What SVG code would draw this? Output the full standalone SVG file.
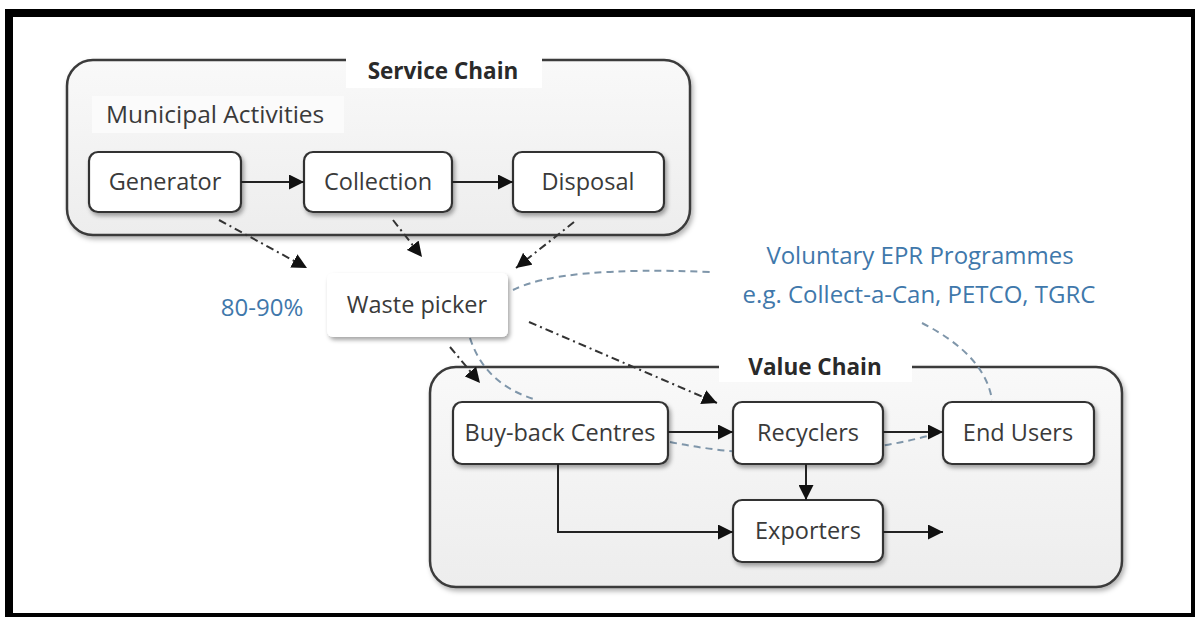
<svg xmlns="http://www.w3.org/2000/svg" width="1195" height="617" viewBox="0 0 1195 617">
<defs>
<style>
.lbl{font-family:"Open Sans","Noto Sans",sans-serif;font-size:23.5px;fill:#3a3a3a;text-anchor:middle}
.ttl{font-family:"Open Sans","Noto Sans",sans-serif;font-size:22.5px;font-weight:bold;fill:#2a2a2a;text-anchor:middle}
.blue{font-family:"Open Sans","Noto Sans",sans-serif;font-size:24px;fill:#3f78ab;text-anchor:middle}
.cont{fill:url(#cg);stroke:#3a3a3a;stroke-width:2.5}
.box{fill:#ffffff;stroke:#333333;stroke-width:2.2;filter:url(#sh)}
.solid{fill:none;stroke:#222222;stroke-width:2}
.dd{fill:none;stroke:#333333;stroke-width:2;stroke-dasharray:8 4 2 4}
.bd{fill:none;stroke:#7f96aa;stroke-width:2;stroke-dasharray:7 5}
</style>
<linearGradient id="cg" x1="0" y1="0" x2="0" y2="1">
<stop offset="0" stop-color="#f9f9f9"/>
<stop offset="1" stop-color="#ededed"/>
</linearGradient>
<filter id="sh" x="-20%" y="-20%" width="140%" height="150%">
<feDropShadow dx="2" dy="3" stdDeviation="2" flood-color="#000" flood-opacity="0.35"/>
</filter>
<filter id="shc" x="-10%" y="-10%" width="120%" height="130%">
<feDropShadow dx="2" dy="3" stdDeviation="2.5" flood-color="#000" flood-opacity="0.3"/>
</filter>
<marker id="a2" viewBox="0 0 10 10" refX="10" refY="5" markerWidth="15" markerHeight="15" orient="auto" markerUnits="userSpaceOnUse">
<path d="M0,0 L10,5 L0,10 z" fill="#111"/>
</marker>
</defs>

<rect x="5" y="9" width="1190" height="608" fill="#000"/>
<rect x="13" y="17" width="1178" height="596" fill="#fff"/>

<g id="service-chain">
<rect class="cont" x="67" y="60" width="623" height="175" rx="26" filter="url(#shc)"/>
<rect x="346" y="54" width="196" height="34" fill="#fff"/>
<text class="ttl" x="443" y="79">Service Chain</text>
<rect x="92" y="96" width="252" height="37" fill="#fbfbfb"/>
<text class="lbl" x="106" y="123" style="text-anchor:start;font-size:24.5px">Municipal Activities</text>
</g>

<g id="value-chain">
<rect class="cont" x="430" y="367" width="692" height="220" rx="26" filter="url(#shc)"/>
<rect x="719" y="352" width="193" height="30" fill="#fff"/>
<text class="ttl" x="815" y="375">Value Chain</text>
</g>

<g id="epr-curves">
<path class="bd" d="M513,290 Q560,266 711,272"/>
<path class="bd" d="M922,323 Q985,355 992,400"/>
<path class="bd" d="M470,338 Q485,385 537,400"/>
<path class="bd" d="M670,442 Q808,470 943,432"/>
</g>

<g id="generator"><rect class="box" x="89" y="152" width="152" height="60" rx="9"/><text class="lbl" x="165" y="190">Generator</text></g>
<g id="collection"><rect class="box" x="304" y="152" width="148" height="60" rx="9"/><text class="lbl" x="378" y="190">Collection</text></g>
<g id="disposal"><rect class="box" x="513" y="152" width="151" height="60" rx="9"/><text class="lbl" x="588" y="190">Disposal</text></g>

<g id="waste-picker"><rect x="327" y="273" width="181" height="64" rx="6" fill="#fff" filter="url(#sh)"/><text class="lbl" x="417" y="313">Waste picker</text></g>
<g id="pct"><text class="blue" x="262" y="316">80-90%</text></g>
<g id="epr-label">
<text class="blue" x="920" y="264">Voluntary EPR Programmes</text>
<text class="blue" x="919" y="303">e.g. Collect-a-Can, PETCO, TGRC</text>
</g>

<g id="buy-back"><rect class="box" x="453" y="402" width="215" height="62" rx="9"/><text class="lbl" x="560" y="441">Buy-back Centres</text></g>
<g id="recyclers"><rect class="box" x="733" y="402" width="150" height="62" rx="9"/><text class="lbl" x="808" y="441">Recyclers</text></g>
<g id="end-users"><rect class="box" x="943" y="402" width="151" height="62" rx="9"/><text class="lbl" x="1018" y="441">End Users</text></g>
<g id="exporters"><rect class="box" x="733" y="500" width="150" height="62" rx="9"/><text class="lbl" x="808" y="539">Exporters</text></g>

<g id="connectors">
<line class="solid" x1="241" y1="182" x2="304" y2="182" marker-end="url(#a2)"/>
<line class="solid" x1="452" y1="182" x2="513" y2="182" marker-end="url(#a2)"/>
<line class="solid" x1="668" y1="432" x2="733" y2="432" marker-end="url(#a2)"/>
<line class="solid" x1="883" y1="432" x2="943" y2="432" marker-end="url(#a2)"/>
<line class="solid" x1="806" y1="464" x2="806" y2="500" marker-end="url(#a2)"/>
<polyline class="solid" points="558,464 558,532 733,532" marker-end="url(#a2)"/>
<line class="solid" x1="883" y1="532" x2="943" y2="532" marker-end="url(#a2)"/>
<line class="dd" x1="219" y1="220" x2="307" y2="268" marker-end="url(#a2)"/>
<line class="dd" x1="393" y1="220" x2="422" y2="257" marker-end="url(#a2)"/>
<line class="dd" x1="574" y1="222" x2="516" y2="268" marker-end="url(#a2)"/>
<line class="dd" x1="529" y1="322" x2="717" y2="403" marker-end="url(#a2)"/>
<line class="dd" x1="450" y1="347" x2="480" y2="383" marker-end="url(#a2)"/>
</g>
</svg>
